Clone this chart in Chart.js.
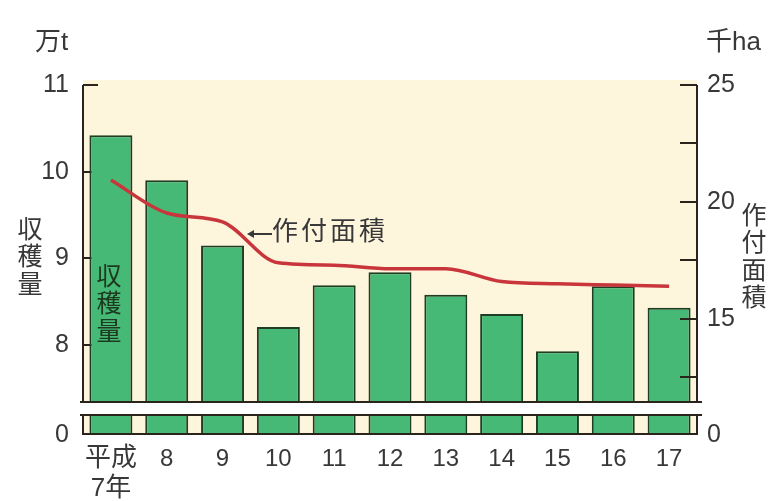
<!DOCTYPE html>
<html lang="ja">
<head>
<meta charset="utf-8">
<style>
  html, body { margin: 0; padding: 0; background: #fff; }
  #chart { display: block; }
</style>
</head>
<body>
<canvas id="chart" width="771" height="501"></canvas>
<script src="https://cdn.jsdelivr.net/npm/chart.js@4/dist/chart.umd.min.js"></script>
<script>
const years = [['平成', '7年'], '8', '9', '10', '11', '12', '13', '14', '15', '16', '17'];
const harvest = [10.42, 9.90, 9.15, 8.21, 8.69, 8.84, 8.58, 8.36, 7.93, 8.68, 8.43];          // 万t
const plantedArea = [20.94, 19.53, 19.15, 17.40, 17.30, 17.15, 17.15, 16.60, 16.50, 16.45, 16.40]; // 千ha
const leftTicks = [0, 8, 9, 10, 11];
const rightTicks = [0, 12.5, 15, 17.5, 20, 22.5, 25];
const rightLabels = ['0', '', '15', '', '20', '', '25'];

// both axes are broken: "0" sits at the foot of the short strip below the gap
const LEFT_FLOOR = 6.963;
const RIGHT_FLOOR = 10.04;
const GAP_TOP = 7.345;     // left-scale values bounding the white gap
const GAP_BOTTOM = 7.195;

const FONT = '"Liberation Sans", "Noto Sans CJK JP", sans-serif';
const TEXT = '#383838';
const AXIS = '#2a241c';

function tickValue(list, floor) {
  return list.map(v => ({ value: v === 0 ? floor : v }));
}

function verticalText(ctx, str, x, y0, step) {
  [...str].forEach((ch, i) => ctx.fillText(ch, x, y0 + i * step));
}

const brokenAxes = {
  id: 'brokenAxes',
  beforeDraw(chart) {
    const { ctx, chartArea: a } = chart;
    ctx.save();
    ctx.fillStyle = '#fdf5dc';
    ctx.fillRect(a.left, a.top - 5, a.right - a.left, a.bottom - a.top + 5);
    ctx.restore();
  },
  beforeDatasetsDraw(chart) {
    const { ctx, chartArea: a, scales: { y } } = chart;
    ctx.save();
    ctx.strokeStyle = AXIS;
    ctx.lineWidth = 2;
    ctx.beginPath();
    ctx.moveTo(a.left, a.top);
    ctx.lineTo(a.left, a.bottom);
    ctx.moveTo(a.right, a.top);
    ctx.lineTo(a.right, a.bottom);
    // left ticks point inward, under the bars
    leftTicks.slice(1).forEach(v => {
      const py = Math.round(y.getPixelForValue(v));
      ctx.moveTo(a.left, py);
      ctx.lineTo(a.left + 15, py);
    });
    ctx.stroke();
    ctx.restore();
  },
  afterDatasetsDraw(chart) {
    const { ctx, chartArea: a, scales: { y, yR } } = chart;
    ctx.save();
    ctx.strokeStyle = AXIS;
    ctx.lineWidth = 2;
    ctx.beginPath();
    rightTicks.slice(1).forEach(v => {
      const py = Math.round(yR.getPixelForValue(v));
      ctx.moveTo(a.right, py);
      ctx.lineTo(a.right - 17, py);
    });
    ctx.stroke();

    // the gap between the two strips
    const gTop = Math.round(y.getPixelForValue(GAP_TOP));
    const gBot = Math.round(y.getPixelForValue(GAP_BOTTOM));
    ctx.fillStyle = '#ffffff';
    ctx.fillRect(a.left - 6, gTop, a.right - a.left + 14, gBot - gTop);
    ctx.beginPath();
    ctx.moveTo(a.left - 3, gTop);
    ctx.lineTo(a.right + 5, gTop);
    ctx.moveTo(a.left - 3, gBot);
    ctx.lineTo(a.right + 5, gBot);
    ctx.moveTo(a.left, a.bottom - 1);
    ctx.lineTo(a.right + 1, a.bottom - 1);
    ctx.stroke();

    // units and axis titles
    ctx.fillStyle = TEXT;
    ctx.font = '26px ' + FONT;
    ctx.textBaseline = 'middle';
    ctx.textAlign = 'left';
    ctx.fillText('万t', 35, 43);
    ctx.fillText('千ha', 706, 43);

    ctx.textAlign = 'center';
    ctx.font = '25px ' + FONT;
    verticalText(ctx, '収穫量', 30, 231, 27.5);
    verticalText(ctx, '作付面積', 754, 217, 27.5);

    // label inside the first bar
    const bar0 = chart.getDatasetMeta(0).data[0];
    ctx.fillStyle = '#1d3a1f';
    verticalText(ctx, '収穫量', bar0.x - 2, 278, 27.5);

    // callout for the planted-area line
    ctx.fillStyle = TEXT;
    ctx.strokeStyle = TEXT;
    ctx.lineWidth = 2;
    ctx.beginPath();
    ctx.moveTo(272, 234);
    ctx.lineTo(252, 234);
    ctx.stroke();
    ctx.beginPath();
    ctx.moveTo(247, 234);
    ctx.lineTo(254, 230);
    ctx.lineTo(254, 238);
    ctx.closePath();
    ctx.fill();
    ctx.textAlign = 'left';
    ctx.font = '26px ' + FONT;
    [...'作付面積'].forEach((ch, i) => ctx.fillText(ch, 272 + i * 29, 233));
    ctx.restore();
  }
};

new Chart(document.getElementById('chart'), {
  data: {
    labels: years,
    datasets: [
      {
        type: 'bar',
        label: '収穫量',
        data: harvest,
        yAxisID: 'y',
        backgroundColor: '#46b976',
        borderColor: '#1f3d22',
        borderWidth: 2,
        barPercentage: 0.77,
        categoryPercentage: 1,
        order: 1
      },
      {
        type: 'line',
        label: '作付面積',
        data: plantedArea,
        yAxisID: 'yR',
        borderColor: '#c8353b',
        borderWidth: 3.5,
        pointRadius: 0,
        cubicInterpolationMode: 'monotone',
        order: 0
      }
    ]
  },
  options: {
    responsive: false,
    animation: false,
    layout: { padding: { top: 85, left: 0, right: 0, bottom: 0 } },
    plugins: { legend: { display: false }, tooltip: { enabled: false } },
    scales: {
      x: {
        grid: { display: false, drawTicks: false },
        border: { display: false },
        ticks: {
          color: TEXT,
          // the era name is set larger than the digits
          font: c => c.index === 0
            ? { family: FONT, size: 26, lineHeight: 1.15 }
            : { family: FONT, size: 24, lineHeight: 1.25 },
          padding: 9,
          autoSkip: false,
          maxRotation: 0
        },
        afterFit: s => { s.height = 66; }
      },
      y: {
        position: 'left',
        min: LEFT_FLOOR,
        max: 11,
        grid: { display: false, drawTicks: false },
        border: { display: false },
        afterBuildTicks: s => { s.ticks = tickValue(leftTicks, LEFT_FLOOR); },
        ticks: {
          color: TEXT,
          font: { family: FONT, size: 25 },
          padding: 14,
          autoSkip: false,
          callback: (v, i) => String(leftTicks[i])
        },
        afterFit: s => { s.width = 83; }
      },
      yR: {
        position: 'right',
        min: RIGHT_FLOOR,
        max: 25,
        grid: { display: false, drawTicks: false },
        border: { display: false },
        afterBuildTicks: s => { s.ticks = tickValue(rightTicks, RIGHT_FLOOR); },
        ticks: {
          color: TEXT,
          font: { family: FONT, size: 25 },
          padding: 10,
          autoSkip: false,
          callback: (v, i) => rightLabels[i]
        },
        afterFit: s => { s.width = 74; }
      }
    }
  },
  plugins: [brokenAxes]
});
</script>
</body>
</html>
